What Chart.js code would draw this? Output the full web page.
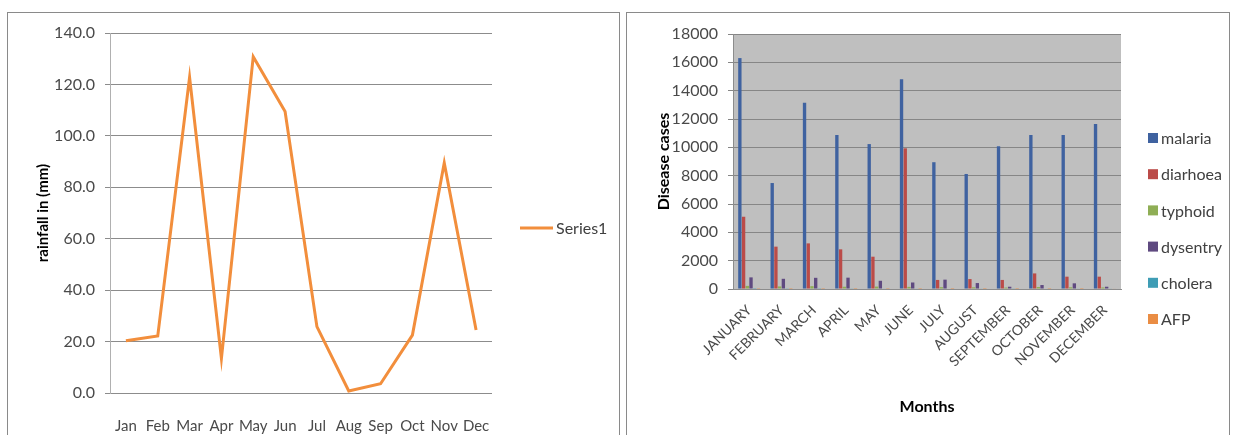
<!DOCTYPE html>
<html>
<head>
<meta charset="utf-8">
<script src="https://cdn.jsdelivr.net/npm/chart.js@4.4.1/dist/chart.umd.min.js"></script>
<style>
  html, body { margin: 0; padding: 0; background: #fff; width: 1234px; height: 435px; overflow: hidden; }
  .panel { position: absolute; top: 12px; height: 440px; border: 1px solid #8a8a8a; box-sizing: border-box; }
  #p1 { left: 7px; width: 613px; }
  #p2 { left: 626px; width: 604px; }
  canvas { position: absolute; top: 0; }
  #rain { left: 0; }
  #disease { left: 620px; }
</style>
</head>
<body>
<div class="panel" id="p1"></div>
<div class="panel" id="p2"></div>
<canvas id="rain" width="620" height="435"></canvas>
<canvas id="disease" width="614" height="435"></canvas>
<script>
// Monthly rainfall (mm)
const monthsShort = ['Jan', 'Feb', 'Mar', 'Apr', 'May', 'Jun', 'Jul', 'Aug', 'Sep', 'Oct', 'Nov', 'Dec'];
const rainfall = [20.3, 22.2, 122.8, 13.4, 130.8, 109.5, 25.8, 0.8, 3.6, 22.5, 89.5, 24.5];

// Monthly disease cases
const monthsLong = ['JANUARY', 'FEBRUARY', 'MARCH', 'APRIL', 'MAY', 'JUNE', 'JULY', 'AUGUST', 'SEPTEMBER', 'OCTOBER', 'NOVEMBER', 'DECEMBER'];
const malaria  = [16300, 7480, 13150, 10870, 10230, 14800, 8950, 8120, 10070, 10870, 10870, 11650];
const diarhoea = [5100, 2990, 3220, 2800, 2280, 9930, 640, 700, 640, 1100, 870, 870];
const typhoid  = [220, 180, 200, 160, 170, 150, 130, 120, 100, 140, 120, 110];
const dysentry = [820, 720, 790, 800, 580, 460, 660, 420, 160, 280, 400, 160];
const cholera  = [60, 50, 55, 45, 40, 40, 35, 30, 25, 35, 30, 30];
const afp      = [8, 6, 7, 5, 6, 5, 4, 4, 3, 5, 4, 40];

const FONT = 'Lato, "Open Sans", sans-serif';
const TICK_COLOR = '#4a4a4a';

// Draws a series key beside the plot: a line sample for line charts, a square for bars.
const sideLegend = {
  id: 'sideLegend',
  afterDraw(chart, args, opts) {
    const ctx = chart.ctx;
    ctx.save();
    ctx.font = `${opts.size}px ${FONT}`;
    ctx.textBaseline = 'middle';
    ctx.textAlign = 'left';
    chart.data.datasets.forEach((ds, i) => {
      const y = opts.y + i * opts.step;
      if (opts.kind === 'line') {
        ctx.strokeStyle = ds.borderColor;
        ctx.lineWidth = ds.borderWidth;
        ctx.beginPath();
        ctx.moveTo(opts.x, y);
        ctx.lineTo(opts.x + opts.swatch, y);
        ctx.stroke();
      } else {
        ctx.fillStyle = ds.backgroundColor;
        ctx.fillRect(opts.x, y - opts.swatch / 2, opts.swatch, opts.swatch);
      }
      ctx.fillStyle = opts.textColor;
      ctx.fillText(ds.label, opts.x + opts.swatch + opts.gap, y + 1);
    });
    ctx.restore();
  }
};

// Fills the plotting area before gridlines and bars are drawn.
const plotFill = {
  id: 'plotFill',
  beforeDraw(chart, args, opts) {
    const a = chart.chartArea;
    chart.ctx.save();
    chart.ctx.fillStyle = opts.color;
    chart.ctx.fillRect(a.left, a.top, a.right - a.left, a.bottom - a.top);
    chart.ctx.restore();
  }
};

new Chart(document.getElementById('rain'), {
  type: 'line',
  data: {
    labels: monthsShort,
    datasets: [{
      label: 'Series1',
      data: rainfall,
      borderColor: '#f28e3c',
      borderWidth: 3,
      pointRadius: 0,
      tension: 0,
      fill: false
    }]
  },
  plugins: [sideLegend],
  options: {
    responsive: false,
    animation: false,
    devicePixelRatio: 1,
    layout: { padding: { left: 30, top: 33, right: 128, bottom: 0 } },
    plugins: {
      legend: { display: false },
      tooltip: { enabled: false },
      sideLegend: { kind: 'line', x: 520, y: 228, step: 0, swatch: 33, gap: 3, size: 16, textColor: '#404040' }
    },
    scales: {
      x: {
        offset: true,
        grid: { display: false },
        border: { display: false },
        ticks: { color: TICK_COLOR, font: { family: FONT, size: 15 }, padding: 16, maxRotation: 0, autoSkip: false },
        afterFit(s) { s.height = 42; }
      },
      y: {
        min: 0,
        max: 140,
        grid: { color: '#8c8c8c', tickLength: 5 },
        border: { display: true, color: '#b0b0b0' },
        ticks: { stepSize: 20, color: TICK_COLOR, font: { family: FONT, size: 16 }, padding: 10, callback: v => Number(v).toFixed(1) },
        title: { display: true, text: 'rainfall in (mm)', color: '#000', font: { family: FONT, size: 15, weight: 'bold' } },
        afterFit(s) { s.width = 80; }
      }
    }
  }
});

const barColors = ['#3f62a0', '#bb4b48', '#8fae55', '#5f4a80', '#3f9db5', '#ea8d44'];
const series = [
  ['malaria', malaria], ['diarhoea', diarhoea], ['typhoid', typhoid],
  ['dysentry', dysentry], ['cholera', cholera], ['AFP', afp]
];

new Chart(document.getElementById('disease'), {
  type: 'bar',
  data: {
    labels: monthsLong,
    datasets: series.map(([name, values], i) => ({
      label: name,
      data: values,
      backgroundColor: barColors[i],
      borderWidth: 0,
      categoryPercentage: 0.69,
      barPercentage: 0.9
    }))
  },
  plugins: [plotFill, sideLegend],
  options: {
    responsive: false,
    animation: false,
    devicePixelRatio: 1,
    layout: { padding: { left: 30, top: 34, right: 113, bottom: 15 } },
    plugins: {
      legend: { display: false },
      tooltip: { enabled: false },
      plotFill: { color: '#bfbfbf' },
      sideLegend: { kind: 'bar', x: 528, y: 138, step: 36.2, swatch: 10, gap: 3, size: 16, textColor: '#404040' }
    },
    scales: {
      x: {
        grid: { display: false },
        border: { display: true, color: '#8c8c8c' },
        ticks: { color: TICK_COLOR, font: { family: FONT, size: 14 }, padding: 5, minRotation: 45, maxRotation: 45, autoSkip: false },
        title: { display: true, text: 'Months', color: '#000', font: { family: FONT, size: 16, weight: 'bold' } },
        afterFit(s) { s.height = 131; }
      },
      y: {
        min: 0,
        max: 18000,
        grid: { color: '#868686', tickLength: 5 },
        border: { display: true, color: '#8c8c8c' },
        ticks: { stepSize: 2000, color: TICK_COLOR, font: { family: FONT, size: 16 }, padding: 10, callback: v => String(v) },
        title: { display: true, text: 'Disease cases', color: '#000', font: { family: FONT, size: 16, weight: 'bold' } },
        afterFit(s) { s.width = 83; }
      }
    }
  }
});
</script>
</body>
</html>
